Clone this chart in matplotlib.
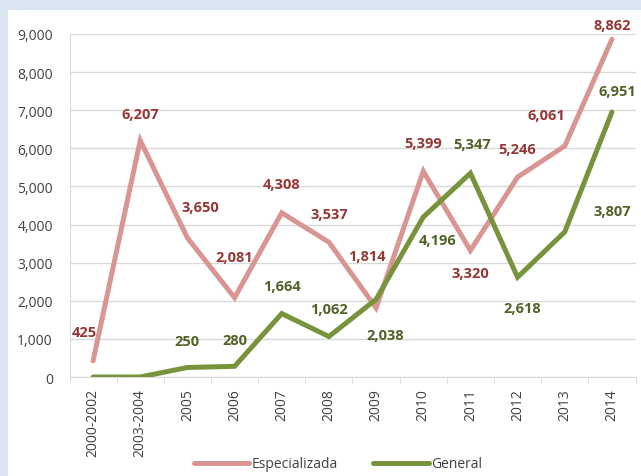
import matplotlib.pyplot as plt
import numpy as np
from matplotlib.patches import Rectangle
from matplotlib.ticker import FuncFormatter, FixedLocator

plt.rcParams['font.family'] = ['Open Sans', 'DejaVu Sans']

years = ['2000-2002', '2003-2004', '2005', '2006', '2007', '2008',
         '2009', '2010', '2011', '2012', '2013', '2014']
especializada = [425, 6207, 3650, 2081, 4308, 3537, 1814, 5399, 3320, 5246, 6061, 8862]
general = [0, 0, 250, 280, 1664, 1062, 2038, 4196, 5347, 2618, 3807, 6951]

# label offsets in points (dx, dy)
esp_off = [(-6, 21), (0, 19), (9, 22), (0, 29), (0, 21), (0, 20),
           (-6.5, 37), (0, 20), (0, -16), (0, 20), (-13, 22), (0, 10)]
gen_off = [None, None, (0, 19), (0, 19), (0, 20), (0, 20),
           (6.5, -26), (10, -16.5), (1, 21), (3, -22), (34, 15), (4, 15)]

esp_line = '#d99594'
esp_text = '#953735'
gen_line = '#77933c'
gen_text = '#4f6228'

fig = plt.figure(figsize=(6.41, 4.77), dpi=100)
fig.patch.set_facecolor('#dce6f2')
fig.patches.append(Rectangle((8 / 641, 0), 1, 1 - 11 / 477, transform=fig.transFigure,
                             facecolor='white', edgecolor='none', zorder=-10))

ax = fig.add_axes([69.5 / 641, 1 - 378 / 477, 566 / 641, 343 / 477])
ax.set_facecolor('none')
x = np.arange(len(years))

ax.plot(x, especializada, color=esp_line, lw=3.6, solid_capstyle='round',
        solid_joinstyle='miter', label='Especializada', zorder=3)
ax.plot(x, general, color=gen_line, lw=3.6, solid_capstyle='round',
        solid_joinstyle='miter', label='General', zorder=4)

for xi, v, off in zip(x, especializada, esp_off):
    ax.annotate(f'{v:,}', (xi, v), xytext=off, textcoords='offset points',
                ha='center', va='center', fontsize=10.5, fontweight='bold',
                color=esp_text, zorder=5)
for xi, v, off in zip(x, general, gen_off):
    if off is None:
        continue
    ax.annotate(f'{v:,}', (xi, v), xytext=off, textcoords='offset points',
                ha='center', va='center', fontsize=10.5, fontweight='bold',
                color=gen_text, zorder=5)

ax.set_xlim(-0.5, len(years) - 0.5)
ax.set_ylim(0, 9000)
ax.set_yticks(np.arange(0, 9001, 1000))
ax.yaxis.set_major_formatter(FuncFormatter(lambda v, p: f'{int(v):,}'))
ax.grid(axis='y', color='#d9d9d9', lw=1)
ax.set_axisbelow(True)

ax.set_xticks(x)
ax.set_xticklabels(years, rotation=90)
ax.xaxis.set_minor_locator(FixedLocator(np.arange(-0.5, len(years), 1)))
ax.tick_params(axis='x', which='major', length=0, pad=8, labelsize=10, labelcolor='#404040')
ax.tick_params(axis='x', which='minor', length=4, color='#d9d9d9')
ax.tick_params(axis='y', length=0, pad=12, labelsize=10, labelcolor='#404040')

for s in ['top', 'right']:
    ax.spines[s].set_visible(False)
ax.spines['left'].set_color('#d9d9d9')
ax.spines['bottom'].set_color('#d9d9d9')

leg = fig.legend(loc='center', bbox_to_anchor=(338 / 641, 1 - 465 / 477), ncol=2,
                 frameon=False, fontsize=10, handlelength=4, columnspacing=2.5,
                 handletextpad=0.2)
for t in leg.get_texts():
    t.set_color('#404040')

fig.savefig('out.png', dpi=100)
